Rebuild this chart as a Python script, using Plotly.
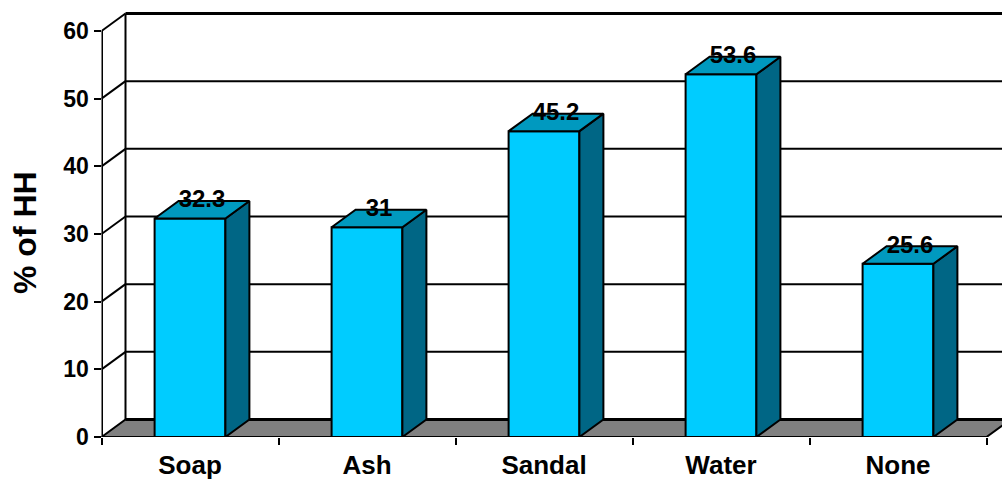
import plotly.graph_objects as go

# Household cleaning agents, share of households
categories = ["Soap", "Ash", "Sandal", "Water", "None"]
values = [32.3, 31, 45.2, 53.6, 25.6]
y_ticks = [0, 10, 20, 30, 40, 50, 60]
value_labels = ["32.3", "31", "45.2", "53.6", "25.6"]

WIDTH, HEIGHT = 1002, 479
AXIS_LEFT, AXIS_BOTTOM = 101.5, 437.0
PX_PER_CAT = 177.0
PX_PER_UNIT = 406.0 / 60
DEPTH_X = 24.0 / PX_PER_CAT   # oblique depth of the box, in axis units
DEPTH_Y = 17.5 / PX_PER_UNIT
BAR_WIDTH = 0.4

FRONT = "#00CCFF"
SIDE = "#006685"
TOP = "#0099BF"
FLOOR = "#808080"
FONT = "Liberation Sans"

n = len(categories)
centers = [i + 0.5 for i in range(n)]
x_range = [0, (WIDTH - AXIS_LEFT) / PX_PER_CAT]
y_range = [0, AXIS_BOTTOM / PX_PER_UNIT]
y_max = y_ticks[-1]


def seg(x0, y0, x1, y1, width=2):
    return dict(type="line", xref="x", yref="y", x0=x0, y0=y0, x1=x1, y1=y1,
                layer="below", line=dict(color="black", width=width))


shapes = [
    # floor of the box
    dict(type="path", xref="x", yref="y", layer="below", fillcolor=FLOOR,
         line=dict(color="black", width=2),
         path=f"M 0 0 L {n} 0 L {n + DEPTH_X} {DEPTH_Y} L {DEPTH_X} {DEPTH_Y} Z"),
    seg(DEPTH_X, DEPTH_Y, n + DEPTH_X, DEPTH_Y, 3),
    # back wall edge
    seg(DEPTH_X, DEPTH_Y, DEPTH_X, y_max + DEPTH_Y, 2),
]
for v in y_ticks[1:]:
    shapes.append(seg(0, v, DEPTH_X, v + DEPTH_Y, 2))
    shapes.append(seg(DEPTH_X, v + DEPTH_Y, n + DEPTH_X, v + DEPTH_Y, 3 if v == y_max else 2))

fig = go.Figure()
fig.add_trace(go.Bar(x=centers, y=values, width=BAR_WIDTH, marker=dict(
    color=FRONT, line=dict(color="black", width=2)), hoverinfo="skip"))

for c, v in zip(centers, values):
    left, right = c - BAR_WIDTH / 2, c + BAR_WIDTH / 2
    # right-hand face
    fig.add_trace(go.Scatter(
        x=[right, right + DEPTH_X, right + DEPTH_X, right, right],
        y=[0, DEPTH_Y, v + DEPTH_Y, v, 0],
        mode="lines", fill="toself", fillcolor=SIDE,
        line=dict(color="black", width=2), hoverinfo="skip"))
    # top face
    fig.add_trace(go.Scatter(
        x=[left, right, right + DEPTH_X, left + DEPTH_X, left],
        y=[v, v, v + DEPTH_Y, v + DEPTH_Y, v],
        mode="lines", fill="toself", fillcolor=TOP,
        line=dict(color="black", width=2), hoverinfo="skip"))

# front axis lines, left unclipped so they keep their full width
fig.add_trace(go.Scatter(x=[0, 0], y=[0, y_max], mode="lines", cliponaxis=False,
                         line=dict(color="black", width=3), hoverinfo="skip"))
fig.add_trace(go.Scatter(x=[0, n], y=[0, 0], mode="lines", cliponaxis=False,
                         line=dict(color="black", width=2), hoverinfo="skip"))

fig.add_trace(go.Scatter(
    x=[c + DEPTH_X / 2 for c in centers],
    y=[v + DEPTH_Y * 0.98 for v in values],
    text=[f"<b>{t}</b>" for t in value_labels], mode="text", textposition="middle center",
    cliponaxis=False,
    textfont=dict(family=FONT, size=24, color="black"), hoverinfo="skip"))

fig.update_layout(
    width=WIDTH, height=HEIGHT, autosize=False, showlegend=False,
    margin=dict(l=0, r=0, t=0, b=0), paper_bgcolor="white", plot_bgcolor="white",
    font=dict(family=FONT, color="black"),
    shapes=shapes,
    annotations=[dict(text="<b>% of HH</b>", xref="paper", yref="paper",
                      x=25 / WIDTH, y=1 - 233 / HEIGHT, showarrow=False, textangle=-90,
                      xanchor="center", yanchor="middle",
                      font=dict(family=FONT, size=32, color="black"))],
    xaxis=dict(range=x_range, domain=[AXIS_LEFT / WIDTH, 1], anchor="y", automargin=False,
               showgrid=False, zeroline=False, showline=False,
               tickmode="array", tickvals=centers,
               ticktext=[f"<b>{c}</b>" for c in categories],
               ticks="outside", ticklen=5, tickcolor="rgba(0,0,0,0)",
               tickfont=dict(family=FONT, size=26, color="black"),
               minor=dict(tickmode="array", tickvals=list(range(n + 1)), ticks="outside",
                          ticklen=7, tickwidth=2, tickcolor="black", showgrid=False)),
    yaxis=dict(range=y_range, domain=[(HEIGHT - AXIS_BOTTOM) / HEIGHT, 1], anchor="x", automargin=False,
               showgrid=False, zeroline=False, showline=False,
               tickmode="array", tickvals=y_ticks,
               ticktext=[f"<b>{v}</b>" for v in y_ticks],
               ticks="outside", ticklen=7, tickwidth=2, tickcolor="black",
               tickfont=dict(family=FONT, size=23, color="black")),
)

fig.write_html("out.html")
